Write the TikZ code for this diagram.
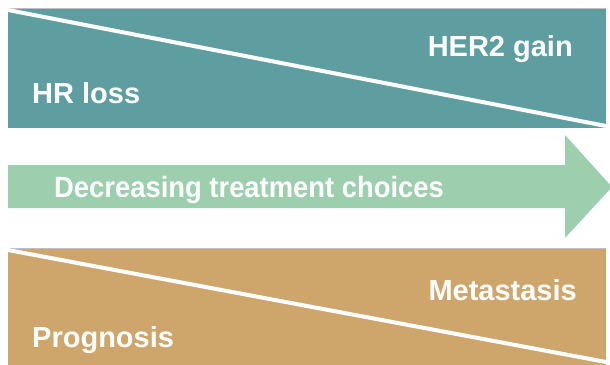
\documentclass[tikz,border=0pt]{standalone}
\usepackage{fontspec}
\setmainfont{Liberation Sans}
\newfontfamily\arrowfont[FakeStretch=0.935]{Liberation Sans}
\usepackage{tikz}
\usetikzlibrary{positioning}

\definecolor{hrteal}{HTML}{5F9EA0}
\definecolor{choicegreen}{HTML}{9DCFAF}
\definecolor{progtan}{HTML}{CEA66B}

\begin{document}
\begin{tikzpicture}[
        x=1pt, y=-1pt,
        split/.style={draw=white, line width=4pt},
        edge/.style={draw=black!25, line width=0.6pt},
        label/.style={text=white, font=\fontsize{29}{32}\selectfont\bfseries, inner sep=0pt}
    ]
        \useasboundingbox (0,0) rectangle (610,364);

        % top band
        \fill[hrteal] (8,8) rectangle (606,128);
        \draw[edge] (8,8) -- (606,8);
        \draw[split] (8,10) -- (606,126);
        \node[label, anchor=base east] (gain) at (573,56) {HER2 gain};
        \node[label, anchor=base west] (loss) at (32,103) {HR loss};

        % arrow
        \fill[choicegreen] (8,165) -- (565,165) -- (565,135) -- (612,187)
            -- (565,238) -- (565,208) -- (8,208) -- cycle;
        \node[label, font=\arrowfont\fontsize{29.3}{32}\selectfont\bfseries, anchor=base west] (choices)
            at (54,197) {Decreasing treatment choices};

        % bottom band
        \fill[progtan] (8,248) rectangle (606,366);
        \draw[edge] (8,248) -- (606,248);
        \draw[split] (8,250) -- (606,362);
        \node[label, anchor=base east] (meta) at (577,300) {Metastasis};
        \node[label, anchor=base west] (prog) at (32,347) {Prognosis};
    \end{tikzpicture}
\end{document}
